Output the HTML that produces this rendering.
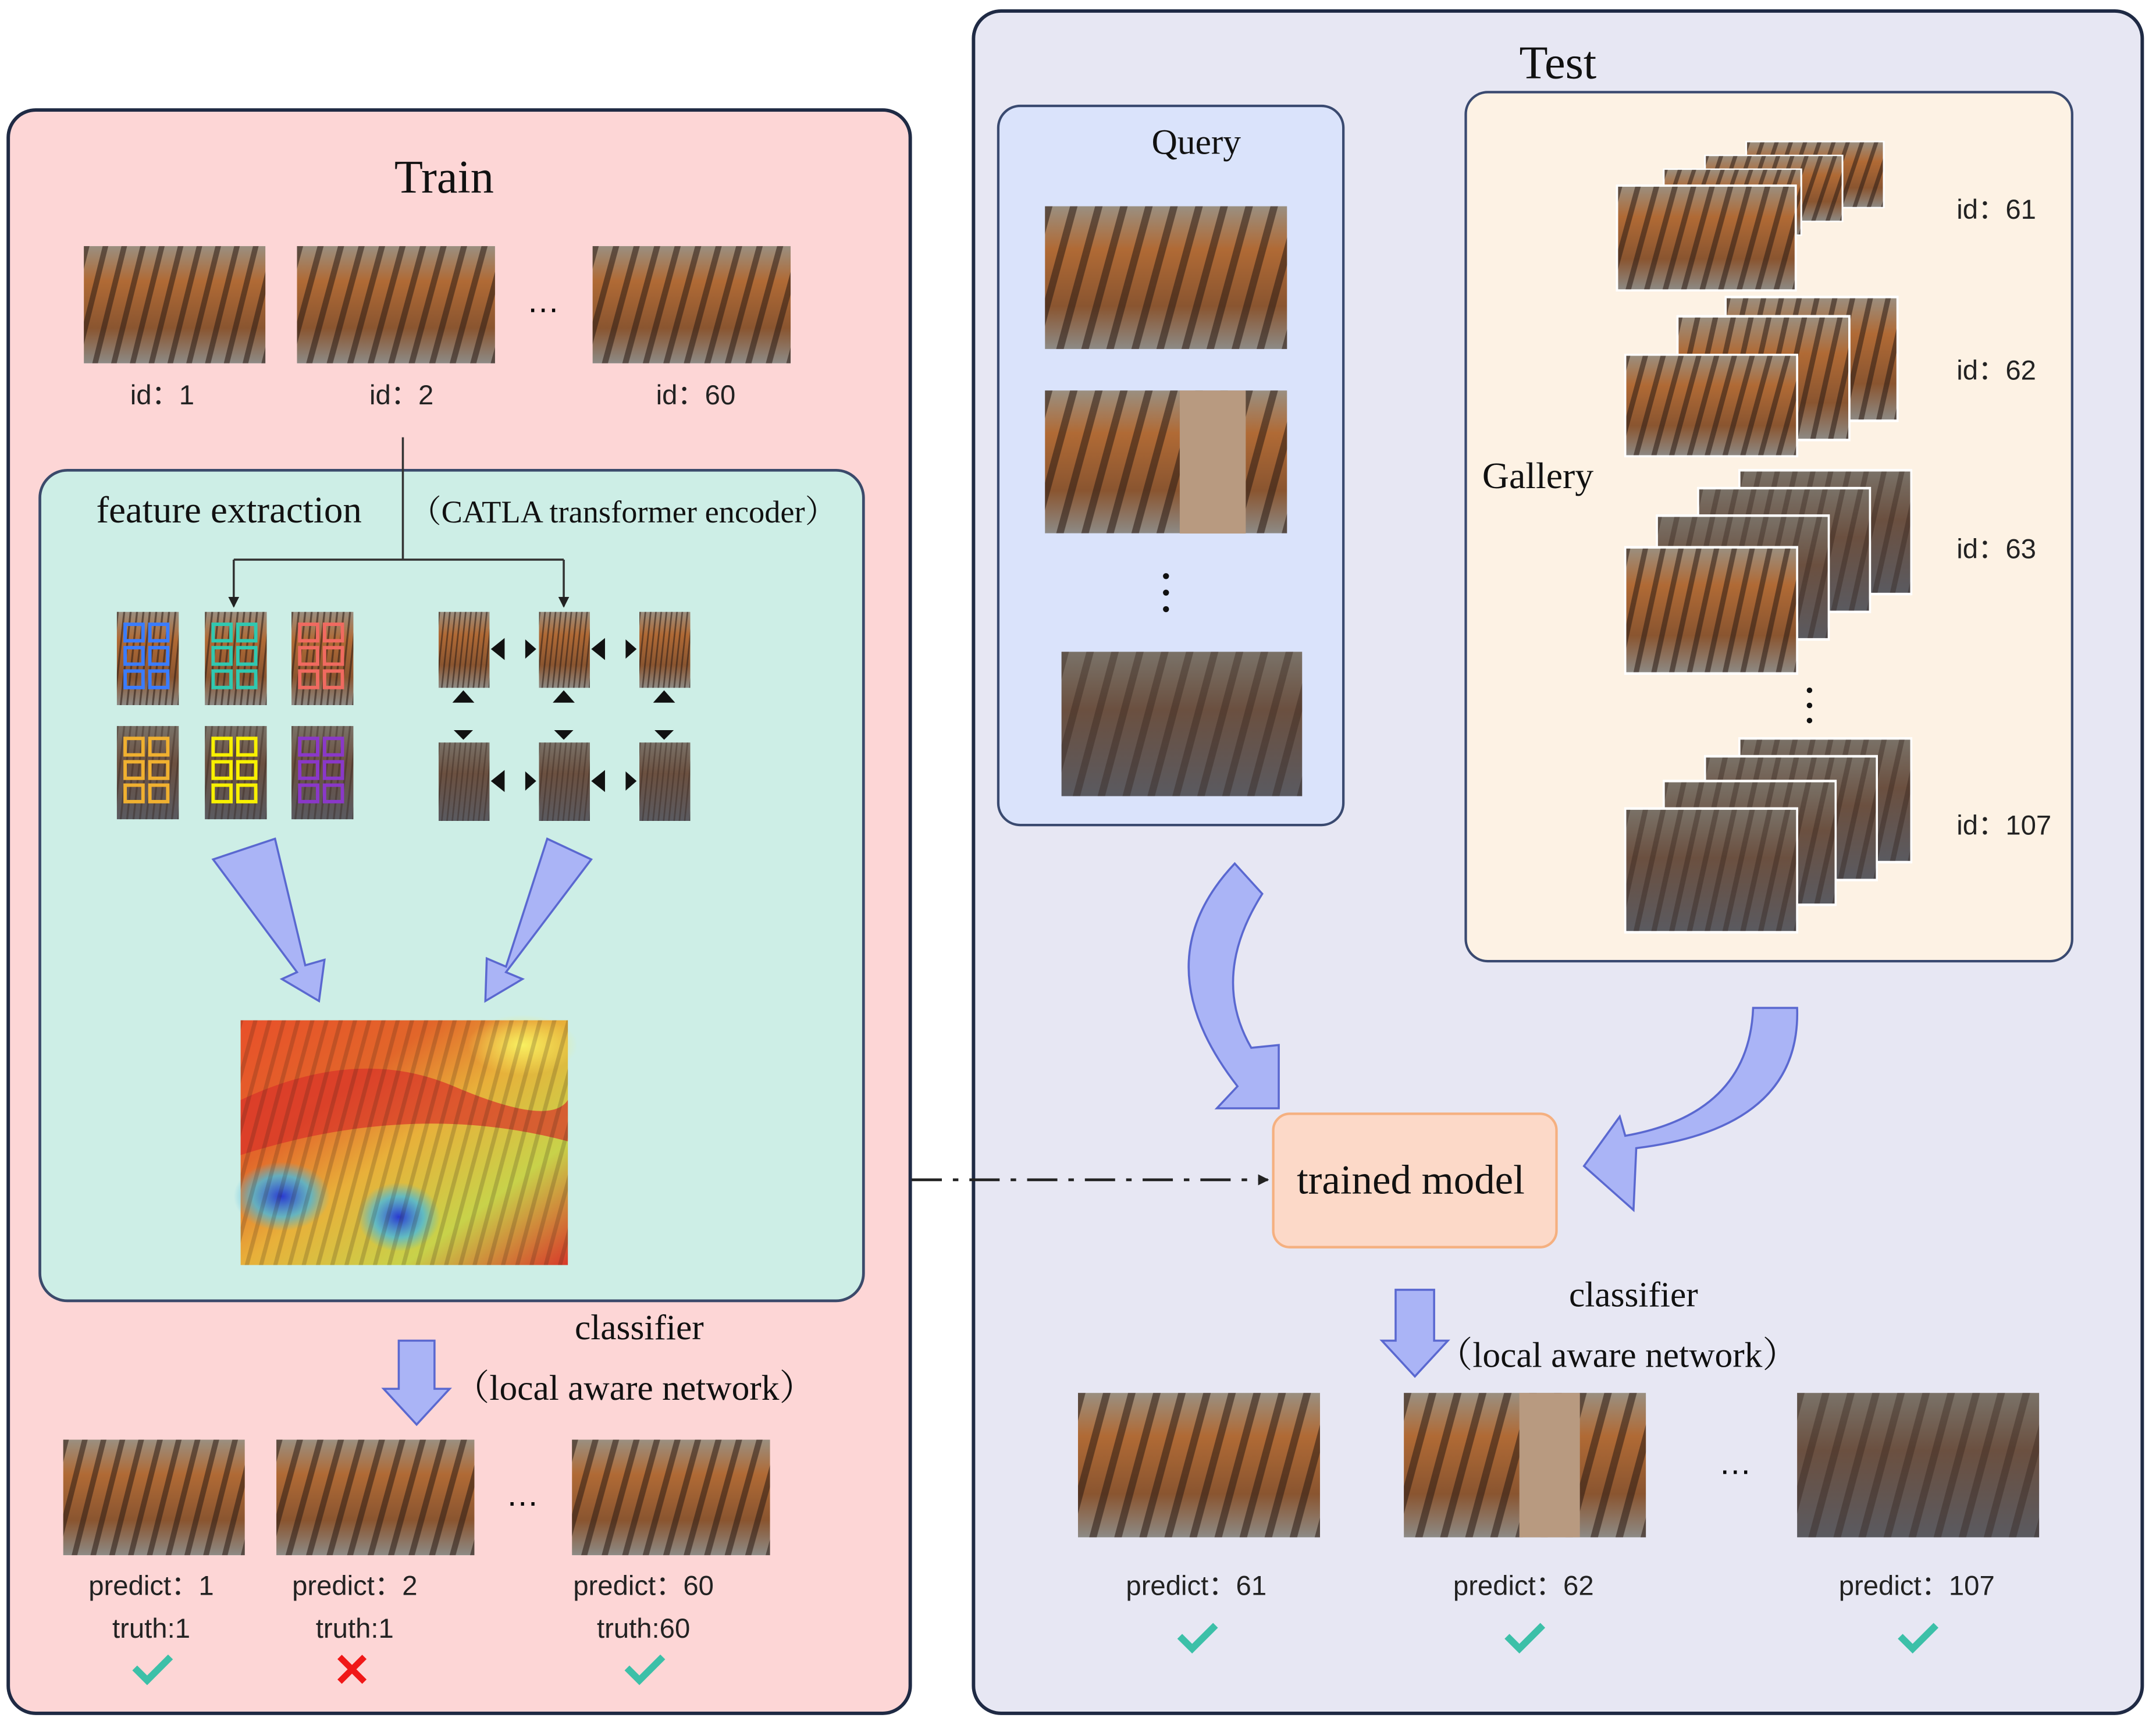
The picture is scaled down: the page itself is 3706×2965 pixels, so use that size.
<!DOCTYPE html>
<html><head><meta charset="utf-8"><style>
html,body{margin:0;padding:0;background:#fff;}
svg{display:block;}
.serif{font-family:"Liberation Serif","Noto Serif CJK SC",serif;}
.sans{font-family:"Liberation Sans","Noto Sans CJK SC",sans-serif;}
</style></head><body>
<svg width="3706" height="2965" viewBox="0 0 1568 1254.5" preserveAspectRatio="none" xmlns="http://www.w3.org/2000/svg">
<defs>
<linearGradient id="tg" x1="0" y1="0" x2="0" y2="1">
<stop offset="0" stop-color="#9a8f80"/><stop offset="0.3" stop-color="#b06a35"/><stop offset="0.7" stop-color="#8a5530"/><stop offset="1" stop-color="#8d8a85"/></linearGradient>
<linearGradient id="tg2" x1="0" y1="0" x2="0" y2="1">
<stop offset="0" stop-color="#7a7268"/><stop offset="0.4" stop-color="#6b5040"/><stop offset="1" stop-color="#5a5a60"/></linearGradient>
<pattern id="st" width="10" height="20" patternUnits="userSpaceOnUse" patternTransform="rotate(15)">
<rect width="3" height="20" fill="#2a1a12" opacity="0.55"/></pattern>
<linearGradient id="hm" x1="0" y1="0" x2="1" y2="1">
<stop offset="0" stop-color="#e8502a"/><stop offset="0.3" stop-color="#e2662a"/><stop offset="0.5" stop-color="#e8b03a"/><stop offset="0.75" stop-color="#c8d24a"/><stop offset="1" stop-color="#d83a2a"/></linearGradient>
<radialGradient id="bl" cx="0.5" cy="0.5" r="0.5"><stop offset="0" stop-color="#2a3ad0"/><stop offset="0.6" stop-color="#46b8e0" stop-opacity="0.8"/><stop offset="1" stop-color="#46b8e0" stop-opacity="0"/></radialGradient>
<radialGradient id="yl" cx="0.5" cy="0.5" r="0.5"><stop offset="0" stop-color="#f8f060"/><stop offset="1" stop-color="#f8f060" stop-opacity="0"/></radialGradient>
<marker id="ah" markerWidth="8" markerHeight="8" refX="7" refY="4" orient="auto" markerUnits="userSpaceOnUse"><path d="M0,0 L8,4 L0,8 Z" fill="#222"/></marker>
<g id="tiger"><rect width="100" height="60" fill="url(#tg)"/><rect width="100" height="60" fill="url(#st)"/></g>
<g id="tiger2"><rect width="100" height="60" fill="url(#tg2)"/><rect width="100" height="60" fill="url(#st)" opacity="0.6"/></g>
</defs>
<rect x="6" y="80" width="656" height="1166" rx="20" fill="#fdd6d6" stroke="#1f2a44" stroke-width="2.5"/>
<text x="323" y="140" class="serif" font-size="34" text-anchor="middle" fill="#111">Train</text>
<use href="#tiger" transform="translate(61,179) scale(1.32,1.42)"/>
<use href="#tiger" transform="translate(216,179) scale(1.44,1.42)"/>
<use href="#tiger" transform="translate(431,179) scale(1.44,1.42)"/>
<text x="395" y="227" class="sans" font-size="24" text-anchor="middle">…</text>
<g class="sans" font-size="20" fill="#222" text-anchor="middle">
<text x="118" y="294">id：1</text><text x="292" y="294">id：2</text><text x="506" y="294">id：60</text></g>
<rect x="29" y="342" width="599" height="604" rx="20" fill="#cdeee6" stroke="#3b4a6b" stroke-width="2"/>
<text x="70" y="380" class="serif" font-size="27.5" fill="#111">feature extraction</text>
<text x="298" y="380" class="serif" font-size="23" fill="#111">（CATLA transformer encoder）</text>
<path d="M293,318 V407 M170,407 H410" stroke="#333" stroke-width="1.5" fill="none"/>
<path d="M170,407 V441" stroke="#333" stroke-width="1.5" marker-end="url(#ah)"/>
<path d="M410,407 V441" stroke="#333" stroke-width="1.5" marker-end="url(#ah)"/>
<g>
<use href="#tiger" transform="translate(85,445) scale(0.45,1.13)"/>
<use href="#tiger" transform="translate(149,445) scale(0.45,1.13)"/>
<use href="#tiger" transform="translate(212,445) scale(0.45,1.13)"/>
<use href="#tiger2" transform="translate(85,528) scale(0.45,1.13)"/>
<use href="#tiger2" transform="translate(149,528) scale(0.45,1.13)"/>
<use href="#tiger2" transform="translate(212,528) scale(0.45,1.13)"/>
</g>
<g fill="none" stroke-width="2.5">
<g stroke="#3a7cff"><rect x="91" y="454" width="13" height="12"/><rect x="109" y="454" width="13" height="12"/><rect x="91" y="471" width="13" height="12"/><rect x="109" y="471" width="13" height="12"/><rect x="91" y="488" width="13" height="12"/><rect x="109" y="488" width="13" height="12"/></g>
<g stroke="#30c8b0"><rect x="155" y="454" width="13" height="12"/><rect x="173" y="454" width="13" height="12"/><rect x="155" y="471" width="13" height="12"/><rect x="173" y="471" width="13" height="12"/><rect x="155" y="488" width="13" height="12"/><rect x="173" y="488" width="13" height="12"/></g>
<g stroke="#f06a60"><rect x="218" y="454" width="13" height="12"/><rect x="236" y="454" width="13" height="12"/><rect x="218" y="471" width="13" height="12"/><rect x="236" y="471" width="13" height="12"/><rect x="218" y="488" width="13" height="12"/><rect x="236" y="488" width="13" height="12"/></g>
<g stroke="#f0b030"><rect x="91" y="537" width="13" height="12"/><rect x="109" y="537" width="13" height="12"/><rect x="91" y="554" width="13" height="12"/><rect x="109" y="554" width="13" height="12"/><rect x="91" y="571" width="13" height="12"/><rect x="109" y="571" width="13" height="12"/></g>
<g stroke="#f8f000"><rect x="155" y="537" width="13" height="12"/><rect x="173" y="537" width="13" height="12"/><rect x="155" y="554" width="13" height="12"/><rect x="173" y="554" width="13" height="12"/><rect x="155" y="571" width="13" height="12"/><rect x="173" y="571" width="13" height="12"/></g>
<g stroke="#8a38c8"><rect x="218" y="537" width="13" height="12"/><rect x="236" y="537" width="13" height="12"/><rect x="218" y="554" width="13" height="12"/><rect x="236" y="554" width="13" height="12"/><rect x="218" y="571" width="13" height="12"/><rect x="236" y="571" width="13" height="12"/></g>
</g>
<use href="#tiger" transform="translate(319,445) scale(0.37,0.92)"/>
<use href="#tiger" transform="translate(392,445) scale(0.37,0.92)"/>
<use href="#tiger" transform="translate(465,445) scale(0.37,0.92)"/>
<use href="#tiger2" transform="translate(319,540) scale(0.37,0.95)"/>
<use href="#tiger2" transform="translate(392,540) scale(0.37,0.95)"/>
<use href="#tiger2" transform="translate(465,540) scale(0.37,0.95)"/>
<g fill="#111">
<path d="M357,472 l10,-8 v16z M390,472 l-8,-7 v14z M430,472 l10,-8 v16z M463,472 l-8,-7 v14z"/>
<path d="M357,568 l10,-8 v16z M390,568 l-8,-7 v14z M430,568 l10,-8 v16z M463,568 l-8,-7 v14z"/>
<path d="M337,502 l-8,9 h16z M410,502 l-8,9 h16z M483,502 l-8,9 h16z"/>
<path d="M337,538 l-7,-7 h14z M410,538 l-7,-7 h14z M483,538 l-7,-7 h14z"/>
</g>
<path d="M155,625 L200,610 L222,702 L236,698 L232,728 L205,712 L216,707 Z" fill="#aab4f6" stroke="#5a68d0" stroke-width="1.5"/>
<path d="M430,625 L398,610 L368,703 L354,697 L353,728 L380,712 L368,707 Z" fill="#aab4f6" stroke="#5a68d0" stroke-width="1.5"/>
<rect x="175" y="742" width="238" height="178" fill="url(#hm)"/>
<path d="M175,800 Q260,760 330,790 T413,800 V830 Q300,800 175,840Z" fill="#d8322a" opacity="0.7"/>
<ellipse cx="205" cy="870" rx="35" ry="25" fill="url(#bl)"/>
<ellipse cx="290" cy="885" rx="30" ry="25" fill="url(#bl)"/>
<ellipse cx="380" cy="760" rx="40" ry="22" fill="url(#yl)"/>
<rect x="175" y="742" width="238" height="178" fill="url(#st)" opacity="0.35"/>
<text x="418" y="974" class="serif" font-size="26" fill="#111">classifier</text>
<text x="330" y="1018" class="serif" font-size="26" fill="#111">（local aware network）</text>
<path d="M290,975 H316 V1010 H327 L303,1036 L279,1010 H290Z" fill="#aab4f6" stroke="#5a68d0" stroke-width="1.5"/>
<use href="#tiger" transform="translate(46,1047) scale(1.32,1.4)"/>
<use href="#tiger" transform="translate(201,1047) scale(1.44,1.4)"/>
<use href="#tiger" transform="translate(416,1047) scale(1.44,1.4)"/>
<text x="380" y="1095" class="sans" font-size="24" text-anchor="middle">…</text>
<g class="sans" font-size="20" fill="#222" text-anchor="middle">
<text x="110" y="1160">predict：1</text><text x="258" y="1160">predict：2</text><text x="468" y="1160">predict：60</text>
<text x="110" y="1191">truth:1</text><text x="258" y="1191">truth:1</text><text x="468" y="1191">truth:60</text></g>
<path d="M98,1213 l9,9 l17,-17" stroke="#3cc0a8" stroke-width="5" fill="none"/>
<path d="M456,1213 l9,9 l17,-17" stroke="#3cc0a8" stroke-width="5" fill="none"/>
<path d="M247,1205 l18,18 M265,1205 l-18,18" stroke="#f01818" stroke-width="4.5"/>
<rect x="708" y="8" width="850" height="1238" rx="20" fill="#e7e7f3" stroke="#1f2a44" stroke-width="2.5"/>
<text x="1133" y="57" class="serif" font-size="34" text-anchor="middle" fill="#111">Test</text>
<rect x="726" y="77" width="251" height="523" rx="16" fill="#dae3fb" stroke="#3a4a70" stroke-width="1.8"/>
<text x="870" y="112" class="serif" font-size="26" text-anchor="middle" fill="#111">Query</text>
<use href="#tiger" transform="translate(760,150) scale(1.76,1.73)"/>
<use href="#tiger" transform="translate(760,284) scale(1.76,1.73)"/>
<rect x="858" y="284" width="48" height="104" fill="#b89a80"/>
<use href="#tiger2" transform="translate(772,474) scale(1.75,1.75)"/>
<g fill="#111"><circle cx="848" cy="419" r="2.2"/><circle cx="848" cy="431" r="2.2"/><circle cx="848" cy="443" r="2.2"/></g>
<rect x="1066" y="67" width="441" height="632" rx="16" fill="#fdf2e4" stroke="#3a4a70" stroke-width="1.8"/>
<text x="1078" y="355" class="serif" font-size="27" fill="#111">Gallery</text>
<g stroke="#fff" stroke-width="1.2">
<use href="#tiger" transform="translate(1270,103) scale(1,0.8)"/>
<use href="#tiger" transform="translate(1240,113) scale(1,0.8)"/>
<use href="#tiger" transform="translate(1210,123) scale(1,0.8)"/>
<use href="#tiger" transform="translate(1176,135) scale(1.3,1.27)"/>
<use href="#tiger" transform="translate(1255,216) scale(1.25,1.5)"/>
<use href="#tiger" transform="translate(1220,230) scale(1.25,1.5)"/>
<use href="#tiger" transform="translate(1182,258) scale(1.25,1.23)"/>
<use href="#tiger2" transform="translate(1265,342) scale(1.25,1.5)"/>
<use href="#tiger2" transform="translate(1235,355) scale(1.25,1.5)"/>
<use href="#tiger2" transform="translate(1205,375) scale(1.25,1.5)"/>
<use href="#tiger" transform="translate(1182,398) scale(1.25,1.53)"/>
<use href="#tiger2" transform="translate(1265,537) scale(1.25,1.5)"/>
<use href="#tiger2" transform="translate(1240,550) scale(1.25,1.5)"/>
<use href="#tiger2" transform="translate(1210,568) scale(1.25,1.5)"/>
<use href="#tiger2" transform="translate(1182,588) scale(1.25,1.5)"/>
</g>
<g fill="#111"><circle cx="1316" cy="502" r="2"/><circle cx="1316" cy="513" r="2"/><circle cx="1316" cy="524" r="2"/></g>
<g class="sans" font-size="20" fill="#222">
<text x="1423" y="159">id：61</text><text x="1423" y="276">id：62</text><text x="1423" y="406">id：63</text><text x="1423" y="607">id：107</text></g>
<path d="M898,628 L918,650 Q880,710 910,762 L930,760 L930,806 L885,806 L900,790 Q830,700 898,628Z" fill="#aab4f6" stroke="#5a68d0" stroke-width="1.5"/>
<path d="M1275,733 L1307,733 Q1310,820 1190,835 L1188,880 L1152,848 L1178,812 L1182,826 Q1272,810 1275,733Z" fill="#aab4f6" stroke="#5a68d0" stroke-width="1.5"/>
<rect x="926" y="810" width="206" height="97" rx="12" fill="#fcd9c8" stroke="#f5b080" stroke-width="1.8"/>
<text x="1026" y="868" class="serif" font-size="30" text-anchor="middle" fill="#111">trained model</text>
<path d="M663,858 H922" stroke="#222" stroke-width="2" stroke-dasharray="22,8,4,8" marker-end="url(#ah)"/>
<path d="M1015,938 H1043 V975 H1053 L1029,1001 L1005,975 H1015Z" fill="#aab4f6" stroke="#5a68d0" stroke-width="1.5"/>
<text x="1188" y="950" class="serif" font-size="26" text-anchor="middle" fill="#111">classifier</text>
<text x="1045" y="994" class="serif" font-size="26" fill="#111">（local aware network）</text>
<use href="#tiger" transform="translate(784,1013) scale(1.76,1.75)"/>
<use href="#tiger" transform="translate(1021,1013) scale(1.76,1.75)"/>
<rect x="1105" y="1013" width="44" height="105" fill="#b89a80"/>
<use href="#tiger2" transform="translate(1307,1013) scale(1.76,1.75)"/>
<text x="1262" y="1072" class="sans" font-size="24" text-anchor="middle">…</text>
<g class="sans" font-size="20" fill="#222" text-anchor="middle">
<text x="870" y="1160">predict：61</text><text x="1108" y="1160">predict：62</text><text x="1394" y="1160">predict：107</text></g>
<path d="M858,1190 l9,9 l17,-17" stroke="#3cc0a8" stroke-width="5" fill="none"/>
<path d="M1096,1190 l9,9 l17,-17" stroke="#3cc0a8" stroke-width="5" fill="none"/>
<path d="M1382,1190 l9,9 l17,-17" stroke="#3cc0a8" stroke-width="5" fill="none"/>
</svg>
</body></html>
